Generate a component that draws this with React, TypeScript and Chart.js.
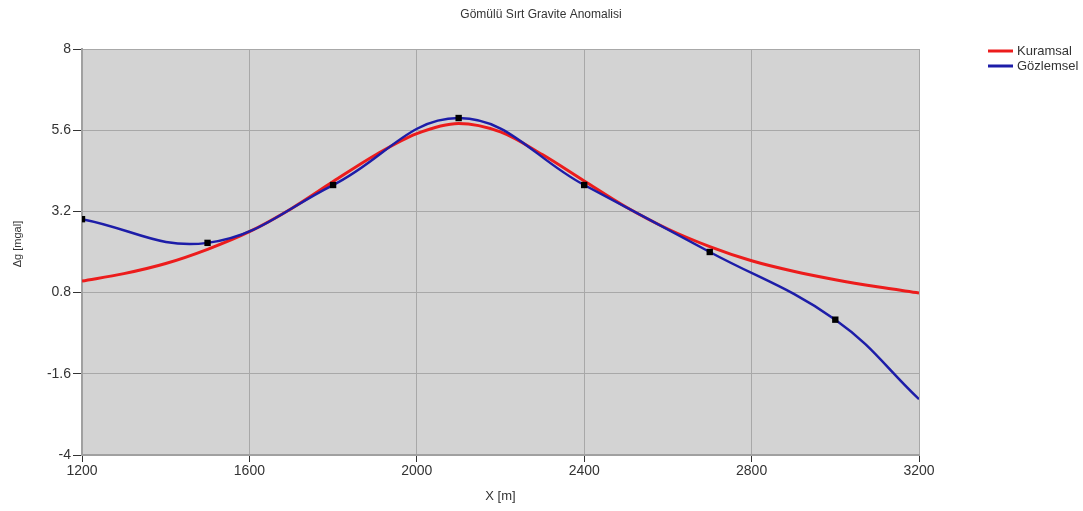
import React, { useEffect, useRef } from "react";
import { Chart, registerables } from "chart.js";

Chart.register(...registerables);

const TITLE = "Gömülü Sırt Gravite Anomalisi";
const X_TITLE = "X [m]";
const Y_TITLE = "Δg [mgal]";

// Kuramsal (theoretical) curve, sampled every 100 m
const theoryX = [1200, 1300, 1400, 1500, 1600, 1700, 1800, 1900, 2000, 2100, 2200, 2300, 2400, 2500, 2600, 2700, 2800, 2900, 3000, 3100, 3200];
const theoryY = [1.14, 1.36, 1.66, 2.08, 2.6, 3.28, 4.08, 4.86, 5.5, 5.8, 5.55, 4.88, 4.1, 3.33, 2.68, 2.16, 1.74, 1.43, 1.18, 0.97, 0.79];

// Gözlemsel (observed) measurements
const obsX = [1200, 1500, 1800, 2100, 2400, 2700, 3000, 3200];
const obsY = [2.97, 2.27, 3.98, 5.96, 3.98, 2.0, 0.0, -2.35];
const obsMarker = [true, true, true, true, true, true, true, false];

const xTicks = [1200, 1600, 2000, 2400, 2800, 3200];
const yTicks = [-4, -1.6, 0.8, 3.2, 5.6, 8];

const RED = "#ec1c1c";
const BLUE = "#1d1da8";
const FONT = "'Liberation Sans', Arial, sans-serif";

export default function App() {
  const ref = useRef<HTMLCanvasElement | null>(null);

  useEffect(() => {
    const canvas = ref.current;
    if (!canvas) return;

    const decorations = {
      id: "decorations",
      beforeDraw(chart: any) {
        const { ctx, chartArea } = chart;
        ctx.save();
        ctx.fillStyle = "#ffffff";
        ctx.fillRect(0, 0, chart.width, chart.height);
        ctx.fillStyle = "#d3d3d3";
        ctx.fillRect(chartArea.left, chartArea.top, chartArea.right - chartArea.left, chartArea.bottom - chartArea.top);
        ctx.restore();
      },
      afterDraw(chart: any) {
        const { ctx, chartArea } = chart;
        ctx.save();
        // title
        ctx.fillStyle = "#333333";
        ctx.font = `12px ${FONT}`;
        ctx.textAlign = "center";
        ctx.textBaseline = "middle";
        ctx.fillText(TITLE, 541, 15);
        // axis titles
        ctx.font = `13px ${FONT}`;
        ctx.fillText(X_TITLE, (chartArea.left + chartArea.right) / 2, 496);
        ctx.save();
        ctx.translate(18, 244);
        ctx.rotate(-Math.PI / 2);
        ctx.font = `11px ${FONT}`;
        ctx.fillText(Y_TITLE, 0, 0);
        ctx.restore();
        // legend
        const items = [
          { label: "Kuramsal", color: RED },
          { label: "Gözlemsel", color: BLUE },
        ];
        ctx.textAlign = "left";
        ctx.font = `13px ${FONT}`;
        items.forEach((it, i) => {
          const y = 51 + i * 15;
          ctx.strokeStyle = it.color;
          ctx.lineWidth = 3;
          ctx.beginPath();
          ctx.moveTo(988, y);
          ctx.lineTo(1013, y);
          ctx.stroke();
          ctx.fillStyle = "#333333";
          ctx.fillText(it.label, 1017, y);
        });
        ctx.restore();
      },
    };

    const chart = new Chart(canvas, {
      type: "line",
      data: {
        datasets: [
          {
            label: "Kuramsal",
            data: theoryX.map((x, i) => ({ x, y: theoryY[i] })),
            borderColor: RED,
            borderWidth: 3,
            pointRadius: 0,
            cubicInterpolationMode: "monotone",
            order: 2,
          },
          {
            label: "Gözlemsel",
            data: obsX.map((x, i) => ({ x, y: obsY[i] })),
            borderColor: BLUE,
            borderWidth: 2.5,
            pointRadius: obsMarker.map((m) => (m ? 4.5 : 0)),
            pointStyle: "rect",
            pointBackgroundColor: "#000000",
            pointBorderColor: "#000000",
            pointBorderWidth: 0,
            tension: 0.4,
            order: 1,
          },
        ],
      },
      options: {
        animation: false,
        responsive: false,
        maintainAspectRatio: false,
        events: [],
        layout: { padding: { left: 0, top: 49, right: 164, bottom: 0 } },
        plugins: {
          legend: { display: false },
          title: { display: false },
          tooltip: { enabled: false },
        },
        scales: {
          x: {
            type: "linear",
            min: 1200,
            max: 3200,
            afterBuildTicks: (scale: any) => {
              scale.ticks = xTicks.map((v) => ({ value: v }));
            },
            afterFit: (scale: any) => {
              scale.height = 56;
            },
            ticks: {
              color: "#333333",
              font: { family: FONT, size: 14 },
              padding: 1,
              maxRotation: 0,
              autoSkip: false,
              callback: (v: any) => String(v),
            },
            grid: {
              color: "#a8a8a8",
              lineWidth: 1,
              tickColor: "#333333",
              tickLength: 7,
            },
            border: { color: "#a0a0a0", width: 2 },
          },
          y: {
            type: "linear",
            min: -4,
            max: 8,
            afterBuildTicks: (scale: any) => {
              scale.ticks = yTicks.map((v) => ({ value: v }));
            },
            afterFit: (scale: any) => {
              scale.width = 82;
            },
            ticks: {
              color: "#333333",
              font: { family: FONT, size: 14 },
              padding: 2,
              autoSkip: false,
              callback: (v: any) => String(Math.round(Number(v) * 10) / 10),
            },
            grid: {
              color: "#a8a8a8",
              lineWidth: 1,
              tickColor: "#333333",
              tickLength: 9,
            },
            border: { color: "#a0a0a0", width: 2 },
          },
        },
      },
      plugins: [decorations],
    });

    return () => chart.destroy();
  }, []);

  return (
    <div style={{ position: "fixed", left: 0, top: 0, width: 1083, height: 511, background: "#ffffff" }}>
      <canvas ref={ref} width={1083} height={511} style={{ display: "block", width: 1083, height: 511 }} />
    </div>
  );
}
